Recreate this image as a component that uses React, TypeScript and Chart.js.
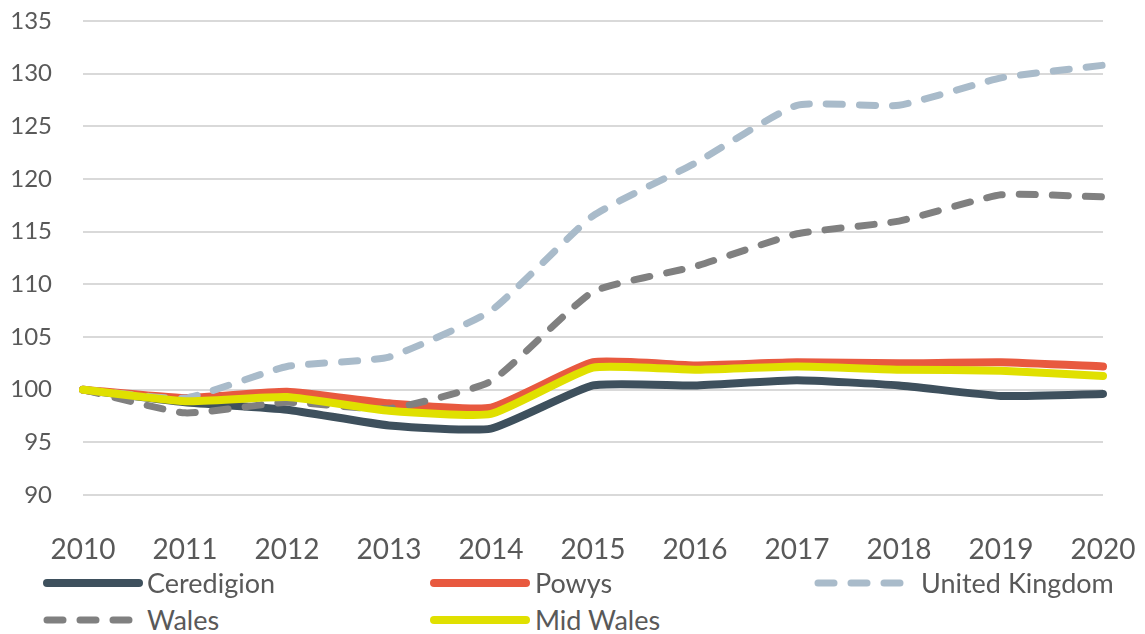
import React, { useEffect, useRef } from "react";
import { Chart, registerables } from "chart.js";

Chart.register(...registerables);

const years = ["2010", "2011", "2012", "2013", "2014", "2015", "2016", "2017", "2018", "2019", "2020"];
const ceredigion = [100, 98.8, 98.1, 96.6, 96.3, 100.4, 100.4, 100.9, 100.4, 99.4, 99.6];
const powys = [100, 99.2, 99.8, 98.7, 98.3, 102.6, 102.3, 102.6, 102.5, 102.6, 102.2];
const unitedKingdom = [100, 99.2, 102.2, 103.1, 107.5, 116.5, 121.5, 127.0, 127.0, 129.6, 130.8];
const wales = [100, 97.8, 98.8, 98.2, 100.8, 109.3, 111.7, 114.8, 116.0, 118.5, 118.3];
const midWales = [100, 98.9, 99.3, 98.0, 97.7, 102.1, 101.9, 102.2, 101.9, 101.8, 101.3];
const yTicks = [90, 95, 100, 105, 110, 115, 120, 125, 130, 135];

const FONT = "Lato, 'Open Sans', sans-serif";
const TEXT = "#595959";
const C_CER = "#3e505d";
const C_POW = "#e8593f";
const C_UK = "#a9bbca";
const C_WAL = "#808080";
const C_MID = "#e0e000";

type LegendItem = { label: string; color: string; dashed: boolean; x: number; y: number; textX: number };
const legendItems: LegendItem[] = [
  { label: "Ceredigion", color: C_CER, dashed: false, x: 47, y: 583, textX: 147 },
  { label: "Powys", color: C_POW, dashed: false, x: 434, y: 583, textX: 535 },
  { label: "United Kingdom", color: C_UK, dashed: true, x: 818, y: 583, textX: 921 },
  { label: "Wales", color: C_WAL, dashed: true, x: 47, y: 620, textX: 147 },
  { label: "Mid Wales", color: C_MID, dashed: false, x: 434, y: 620, textX: 535 },
];

export default function App() {
  const ref = useRef<HTMLCanvasElement | null>(null);

  useEffect(() => {
    document.body.style.margin = "0";
    const ctx = ref.current;
    if (!ctx) return;
    const common = {
      pointRadius: 0,
      tension: 0.15,
      borderCapStyle: "round" as const,
      borderJoinStyle: "round" as const,
      fill: false,
    };
    const chart = new Chart(ctx, {
      type: "line",
      data: {
        labels: years,
        datasets: [
          { ...common, label: "Ceredigion", data: ceredigion, borderColor: C_CER, borderWidth: 8, order: 5 },
          { ...common, label: "Powys", data: powys, borderColor: C_POW, borderWidth: 8, order: 4 },
          { ...common, label: "United Kingdom", data: unitedKingdom, borderColor: C_UK, borderWidth: 7, borderDash: [16, 17], order: 3 },
          { ...common, label: "Wales", data: wales, borderColor: C_WAL, borderWidth: 7, borderDash: [16, 17], order: 2 },
          { ...common, label: "Mid Wales", data: midWales, borderColor: C_MID, borderWidth: 8, order: 1 },
        ],
      },
      options: {
        animation: false,
        responsive: false,
        maintainAspectRatio: false,
        layout: { padding: { top: 21, right: 42, left: 0, bottom: 0 } },
        plugins: { legend: { display: false }, tooltip: { enabled: false } },
        scales: {
          x: {
            offset: false,
            grid: { display: false, drawTicks: false },
            border: { display: false },
            ticks: { color: TEXT, font: { family: FONT, size: 28 }, padding: 38, maxRotation: 0, autoSkip: false },
            afterFit: (s: any) => { s.height = 75; s.paddingLeft = 0; s.paddingRight = 0; },
          },
          y: {
            min: 90,
            max: 135,
            grid: { color: "#d9d9d9", lineWidth: 2, drawTicks: false },
            border: { display: false },
            afterBuildTicks: (s: any) => { s.ticks = yTicks.map((v) => ({ value: v })); },
            ticks: { color: TEXT, font: { family: FONT, size: 24 }, padding: 31 },
            afterFit: (s: any) => { s.width = 83; s.paddingTop = 0; s.paddingBottom = 0; },
          },
        },
      },
    });
    return () => chart.destroy();
  }, []);

  return (
    <div style={{ position: "relative", width: 1145, height: 634, background: "#fff", overflow: "hidden" }}>
      <canvas ref={ref} width={1145} height={570} style={{ position: "absolute", left: 0, top: 0, width: 1145, height: 570 }} />
      {legendItems.map((it) => (
        <React.Fragment key={it.label}>
          <svg style={{ position: "absolute", left: it.x - 5, top: it.y - 6 }} width={104} height={12}>
            <line
              x1={5}
              y1={6}
              x2={it.dashed ? 95 : 97}
              y2={6}
              stroke={it.color}
              strokeWidth={it.dashed ? 7 : 8}
              strokeLinecap="round"
              strokeDasharray={it.dashed ? "16 17" : undefined}
            />
          </svg>
          <div
            style={{
              position: "absolute",
              left: it.textX,
              top: it.y - 18,
              height: 36,
              lineHeight: "36px",
              fontFamily: FONT,
              fontSize: 27,
              color: TEXT,
              whiteSpace: "nowrap",
            }}
          >
            {it.label}
          </div>
        </React.Fragment>
      ))}
    </div>
  );
}
